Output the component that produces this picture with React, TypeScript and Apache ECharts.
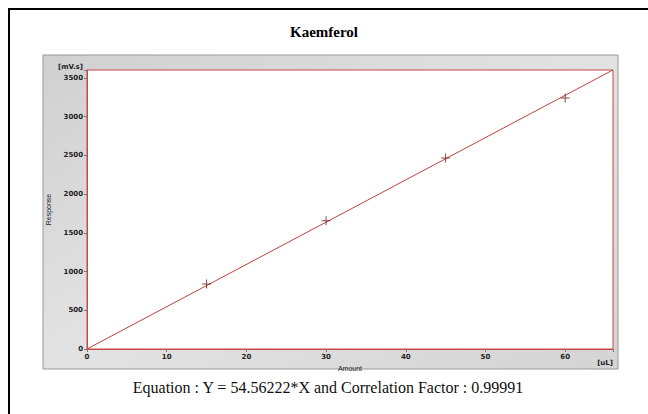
import React, { useEffect, useRef } from "react";
import * as echarts from "echarts";

const titleText = "Kaemferol";
const equationText = "Equation : Y = 54.56222*X and Correlation Factor : 0.99991";
const amounts = [15, 30, 45, 60];
const responses = [840, 1655, 2465, 3240];
const fitX = [0, 66];
const fitY = [0, 3601];

export default function App() {
  const ref = useRef<HTMLDivElement>(null);
  useEffect(() => {
    const chart = echarts.init(ref.current!, null, { renderer: "svg" });
    const lab = { fontFamily: "DejaVu Sans, Verdana, sans-serif", fontSize: 7, fontWeight: "bold", color: "#222" };
    chart.setOption({
      animation: false,
      backgroundColor: "#fff",
      graphic: [
        { type: "rect", z: -10, shape: { x: 9, y: 9, width: 700, height: 450 }, style: { fill: "#fff", stroke: "#000", lineWidth: 2 } },
        {
          type: "rect", z: -5, shape: { x: 43, y: 55, width: 575, height: 314 },
          style: {
            fill: new echarts.graphic.LinearGradient(0, 0, 1, 1, [
              { offset: 0, color: "#d0d0d0" },
              { offset: 0.5, color: "#e2e2e2" },
              { offset: 1, color: "#d4d4d4" },
            ]),
            stroke: "#999", lineWidth: 1,
          },
        },
        { type: "text", left: "center", top: 24, style: { text: titleText, font: "bold 15px 'Liberation Serif', 'Times New Roman', serif", fill: "#000" } },
        { type: "text", x: 328, y: 387, style: { text: equationText, font: "16px 'Liberation Serif', 'Times New Roman', serif", fill: "#111", align: "center", verticalAlign: "middle" } },
        { type: "text", x: 83, y: 67, style: { text: "[mV.s]", font: "bold 7px 'DejaVu Sans', Verdana, sans-serif", fill: "#222", align: "right", verticalAlign: "middle" } },
        { type: "text", x: 613, y: 363, style: { text: "[uL]", font: "bold 7px 'DejaVu Sans', Verdana, sans-serif", fill: "#222", align: "right", verticalAlign: "middle" } },
      ],
      grid: { left: 87, top: 70, right: 35, bottom: 65, show: true, backgroundColor: "#fff", borderColor: "#c84848", borderWidth: 1 },
      xAxis: {
        type: "value", min: 0, max: 66, interval: 10,
        name: "Amount", nameLocation: "middle", nameGap: 15,
        nameTextStyle: { fontFamily: "Liberation Sans, Arial, sans-serif", fontSize: 7, color: "#222" },
        axisLine: { show: true, lineStyle: { color: "#c84848", width: 1 } },
        axisTick: { show: true, length: 3, lineStyle: { color: "#777" } },
        axisLabel: { ...lab, margin: 4, formatter: (v: number) => (v % 10 === 0 ? String(v) : "") },
        splitLine: { show: false },
      },
      yAxis: {
        type: "value", min: 0, max: 3600, interval: 500,
        name: "Response", nameLocation: "middle", nameGap: 35, nameRotate: 90,
        nameTextStyle: { fontFamily: "Liberation Sans, Arial, sans-serif", fontSize: 7, color: "#222" },
        axisLine: { show: true, lineStyle: { color: "#c84848", width: 1 } },
        axisTick: { show: true, length: 3, lineStyle: { color: "#777" } },
        axisLabel: { ...lab, margin: 4, formatter: (v: number) => (v % 500 === 0 ? String(v) : "") },
        splitLine: { show: false },
      },
      series: [
        {
          type: "line",
          data: fitX.map((x, i) => [x, fitY[i]]),
          showSymbol: false,
          lineStyle: { color: "#c04040", width: 1 },
          z: 2,
        },
        {
          type: "scatter",
          data: amounts.map((x, i) => [x, responses[i]]),
          symbol: "path://M4,0H5V9H4Z M0,4H9V5H0Z",
          symbolSize: 9,
          itemStyle: { color: "#6a1a1a" },
          z: 3,
        },
      ],
    });
    return () => chart.dispose();
  }, []);
  return <div ref={ref} style={{ position: "fixed", left: 0, top: 0, width: 648, height: 414 }} />;
}
